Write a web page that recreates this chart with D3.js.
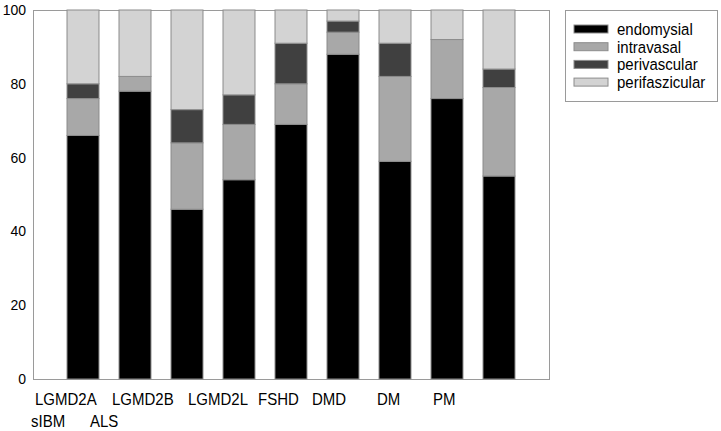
<!DOCTYPE html>
<html>
<head>
<meta charset="utf-8">
<script src="https://cdn.jsdelivr.net/npm/d3@7"></script>
<style>
  body { margin: 0; background: #fff; }
  svg { display: block; font-family: "Liberation Sans", Arial, sans-serif; }
</style>
</head>
<body>
<div id="chart"></div>
<script>
// data
const categories = ["b1", "b2", "b3", "b4", "b5", "b6", "b7", "b8", "b9"];
const seriesNames = ["endomysial", "intravasal", "perivascular", "perifaszicular"];
const endomysial     = [66, 78, 46, 54, 69, 88, 59, 76, 55];
const intravasal     = [10,  4, 18, 15, 11,  6, 23, 16, 24];
const perivascular   = [ 4,  0,  9,  8, 11,  3,  9,  0,  5];
const perifaszicular = [20, 18, 27, 23,  9,  3,  9,  8, 16];
const yTicks = [0, 20, 40, 60, 80, 100];
// x labels as they appear under the axis (two rows)
const labelRow1 = ["LGMD2A", "LGMD2B", "LGMD2L", "FSHD", "DMD", "DM", "PM"];
const labelRow2 = ["sIBM", "ALS"];

// layout
const W = 721, H = 431;
const plot = { left: 33, right: 549, top: 10, bottom: 379 };
const labelRow1X = [35, 112, 188, 258, 312, 377, 433];
const labelRow2X = [31, 90];
const colors = ["#000000", "#a8a8a8", "#404040", "#d3d3d3"];

const rows = categories.map((c, i) => ({
    cat: c,
    endomysial: endomysial[i],
    intravasal: intravasal[i],
    perivascular: perivascular[i],
    perifaszicular: perifaszicular[i]
}));

const svg = d3.select("#chart").append("svg")
    .attr("width", W)
    .attr("height", H);

const x = d3.scaleBand()
    .domain(categories)
    .range([plot.left, plot.right])
    .paddingInner(0.385)
    .paddingOuter(0.654);

const y = d3.scaleLinear().domain([0, 100]).range([plot.bottom, plot.top]);

const color = d3.scaleOrdinal().domain(seriesNames).range(colors);

// plot frame
svg.append("rect")
    .attr("x", plot.left + 0.5)
    .attr("y", plot.top + 0.5)
    .attr("width", plot.right - plot.left)
    .attr("height", plot.bottom - plot.top)
    .attr("fill", "none")
    .attr("stroke", "#9a9a9a")
    .attr("stroke-width", 1);

// stacked bars
const stacked = d3.stack().keys(seriesNames)(rows);

svg.selectAll(".layer")
    .data(stacked)
    .enter().append("g")
    .attr("class", "layer")
    .attr("fill", d => color(d.key))
    .selectAll("rect")
    .data(d => d.filter(s => s[1] - s[0] > 0))
    .enter().append("rect")
    .attr("x", d => x(d.data.cat))
    .attr("width", x.bandwidth())
    .attr("y", d => y(d[1]))
    .attr("height", d => y(d[0]) - y(d[1]))
    .attr("stroke", "#8c8c8c")
    .attr("stroke-width", 1);

// y axis (labels only, no tick marks)
const yAxis = svg.append("g")
    .attr("transform", `translate(${plot.left},0)`)
    .call(d3.axisLeft(y).tickValues(yTicks).tickSize(0).tickPadding(7));
yAxis.select(".domain").remove();
yAxis.selectAll("text")
    .style("font-size", "14px")
    .style("font-family", "'Liberation Sans', Arial, sans-serif")
    .attr("fill", "#000");

// x labels (text in the original is a bit narrow, so squeeze horizontally)
function xLabels(names, xs, baseline) {
    svg.append("g").selectAll("text")
        .data(names)
        .enter().append("text")
        .attr("transform", (d, i) => `translate(${xs[i]},${baseline}) scale(0.92,1)`)
        .style("font-size", "16.3px")
        .text(d => d);
}
xLabels(labelRow1, labelRow1X, 405);
xLabels(labelRow2, labelRow2X, 427);

// legend
const legend = svg.append("g");
legend.append("rect")
    .attr("x", 565.5)
    .attr("y", 10.5)
    .attr("width", 152)
    .attr("height", 91)
    .attr("fill", "#fff")
    .attr("stroke", "#9a9a9a");

const item = legend.selectAll(".item")
    .data(seriesNames)
    .enter().append("g")
    .attr("class", "item")
    .attr("transform", (d, i) => `translate(574,${25 + i * 17.7})`);

item.append("rect")
    .attr("width", 34)
    .attr("height", 8)
    .attr("fill", d => color(d))
    .attr("stroke", "#8c8c8c");

item.append("text")
    .attr("x", 43)
    .attr("y", 9.5)
    .attr("transform", "scale(1,1.05)")
    .style("font-size", "15px")
    .text(d => d);
</script>
</body>
</html>
